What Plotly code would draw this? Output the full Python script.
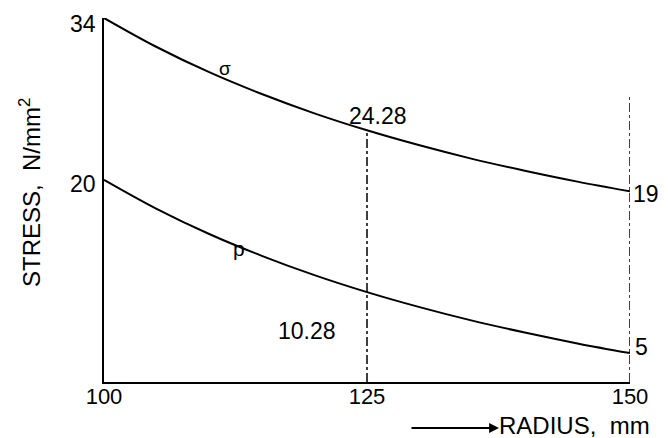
import plotly.graph_objects as go

radius = [100, 105, 110, 115, 120, 125, 130, 135, 140, 145, 150]
sigma = [34.0, 31.49, 29.31, 27.42, 25.75, 24.28, 22.98, 21.81, 20.78, 19.84, 19.0]
p_vals = [20.0, 17.49, 15.31, 13.42, 11.75, 10.28, 8.98, 7.81, 6.78, 5.84, 5.0]
x_ticks = [100, 125, 150]
y_ticks = [20, 34]
mid_r = 125
end_r = 150

FONT = "Liberation Sans, Arial, sans-serif"
YMIN, YMAX = 2.5, 34
# page body has an 8px margin; plot area target in page px: x 104..630, y 18..382
OFF = 8
PL, PR, PT, PB = 104, 630, 18, 382
PW, PH = PR - PL, PB - PT


def px(xp):
    return (xp - PL) / PW


def py(yp):
    return (PB - yp) / PH


fig = go.Figure()
fig.add_trace(go.Scatter(x=radius, y=sigma, mode="lines", line=dict(color="black", width=2, shape="spline"), hoverinfo="skip"))
fig.add_trace(go.Scatter(x=radius, y=p_vals, mode="lines", line=dict(color="black", width=2, shape="spline"), hoverinfo="skip"))

i_mid = radius.index(mid_r)
i_end = radius.index(end_r)
fig.add_shape(type="line", x0=mid_r, x1=mid_r, y0=YMIN, y1=sigma[i_mid], xref="x", yref="y",
              line=dict(color="black", width=1.5, dash="dashdot"))
fig.add_shape(type="line", x0=end_r, x1=end_r, y0=YMIN, y1=27.2, xref="x", yref="y",
              line=dict(color="black", width=1.5, dash="dashdot"))

NUM = dict(size=23, family=FONT, color="black")
ann = []
# y tick labels
for v in y_ticks:
    ann.append(dict(xref="paper", yref="y", x=0, y=v, text=str(v), showarrow=False, xanchor="right", yanchor="middle",
                    xshift=-6, yshift=-4 if v == y_ticks[0] else -6, font=NUM))
ann.append(dict(x=mid_r, y=sigma[i_mid], text=f"{sigma[i_mid]:.2f}", showarrow=False, xanchor="center", yanchor="bottom", xshift=11, yshift=-1, font=NUM))
ann.append(dict(x=mid_r, y=p_vals[i_mid], text=f"{p_vals[i_mid]:.2f}", showarrow=False, xanchor="center", yanchor="top", xshift=-60, yshift=-24, font=NUM))
ann.append(dict(x=end_r, y=sigma[i_end], text=f"{sigma[i_end]:g}", showarrow=False, xanchor="left", yanchor="middle", xshift=1, yshift=-3, font=NUM))
ann.append(dict(x=end_r, y=p_vals[i_end], text=f"{p_vals[i_end]:g}", showarrow=False, xanchor="left", yanchor="middle", xshift=3, yshift=6, font=NUM))
ann.append(dict(x=111.5, y=29.0, text="σ", showarrow=False, xanchor="center", yanchor="middle", yshift=7,
                font=dict(size=19, family=FONT, color="black")))
ann.append(dict(x=112.8, y=13.1, text="p", showarrow=False, xanchor="center", yanchor="bottom", yshift=-2,
                font=dict(size=21, family=FONT, color="black")))
ann.append(dict(xref="paper", yref="paper", x=px(30), y=py(193), text="STRESS,  N/mm<sup>2</sup>",
                textangle=-90, showarrow=False, xanchor="center", yanchor="middle", font=dict(size=24, family=FONT, color="black")))
ann.append(dict(xref="paper", yref="paper", x=px(497), y=py(425), text="RADIUS,  mm",
                showarrow=False, xanchor="left", yanchor="middle", font=dict(size=24, family=FONT, color="black")))
ann.append(dict(xref="paper", yref="paper", x=px(499), y=py(428), axref="pixel", ayref="pixel",
                ax=-89, ay=0, text="", showarrow=True, arrowhead=2, arrowsize=1.1, arrowwidth=1.8, arrowcolor="black"))

fig.update_layout(
    width=668 - OFF, height=438 - OFF,
    margin=dict(l=PL - OFF, r=668 - PR, t=PT - OFF, b=438 - PB),
    paper_bgcolor="white", plot_bgcolor="white",
    showlegend=False,
    font=dict(family=FONT, size=23, color="black"),
    annotations=ann,
    xaxis=dict(range=[100, 150], tickvals=x_ticks, ticktext=[str(v) for v in x_ticks], showgrid=False, zeroline=False,
               showline=True, linecolor="black", linewidth=2, ticks="", ticklabelstandoff=-6,
               tickfont=dict(size=22, family=FONT, color="black")),
    yaxis=dict(range=[YMIN, YMAX], showgrid=False, zeroline=False, showticklabels=False,
               showline=True, linecolor="black", linewidth=2, ticks=""),
)

fig.write_html("out.html")
